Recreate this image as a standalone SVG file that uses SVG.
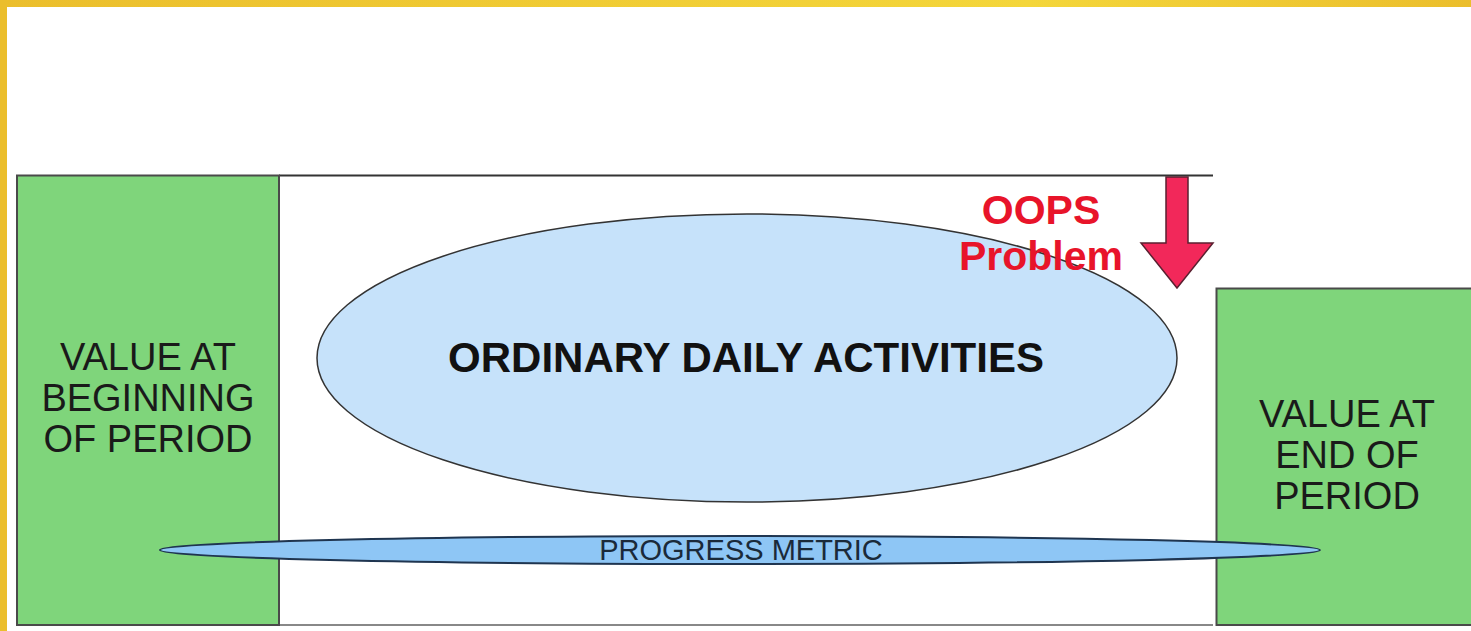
<svg xmlns="http://www.w3.org/2000/svg" width="1471" height="631" viewBox="0 0 1471 631">
<defs>
<linearGradient id="gold" x1="0" y1="0" x2="1" y2="0">
<stop offset="0" stop-color="#EBBE2C"/><stop offset="0.7" stop-color="#F4D63A"/><stop offset="1" stop-color="#EBBE2C"/>
</linearGradient>
<style>
.box{fill:#7FD57B;stroke:#4a4a4a;stroke-width:2}
.lbl{font-family:"Liberation Sans",Arial,sans-serif;font-size:38px;fill:#1a1a1a;text-anchor:middle}
.big{font-family:"Liberation Sans",Arial,sans-serif;font-size:42px;font-weight:bold;fill:#111;text-anchor:middle}
.oops{font-family:"Liberation Sans",Arial,sans-serif;font-size:41px;font-weight:bold;fill:#E8142A;text-anchor:middle}
.pm{font-family:"Liberation Sans",Arial,sans-serif;font-size:29px;fill:#1a2a3a;text-anchor:middle}
</style>
</defs>
<rect x="0" y="0" width="1471" height="631" fill="#fff"/>
<rect x="0" y="0" width="1471" height="7" fill="url(#gold)"/>
<rect x="0" y="0" width="7" height="631" fill="#EBBE2C"/>
<g id="frame">
<line x1="279" y1="175.5" x2="1213" y2="175.5" stroke="#333" stroke-width="2"/>
<line x1="279" y1="625" x2="1213" y2="625" stroke="#888" stroke-width="2"/>
</g>
<g id="begin">
<rect class="box" x="17" y="175.5" width="262" height="449.5"/>
<text class="lbl" x="148" y="370">VALUE AT</text>
<text class="lbl" x="148" y="411">BEGINNING</text>
<text class="lbl" x="148" y="452">OF PERIOD</text>
</g>
<g id="end">
<rect class="box" x="1216.5" y="288.5" width="260" height="336.5"/>
<text class="lbl" x="1347" y="427">VALUE AT</text>
<text class="lbl" x="1347" y="468">END OF</text>
<text class="lbl" x="1347" y="509">PERIOD</text>
</g>
<g id="activities">
<ellipse cx="747" cy="358" rx="430" ry="144" fill="#C6E2FA" stroke="#333" stroke-width="1.5"/>
<text class="big" x="746" y="372">ORDINARY DAILY ACTIVITIES</text>
</g>
<g id="oops">
<text class="oops" x="1041" y="224">OOPS</text>
<text class="oops" x="1041" y="270">Problem</text>
</g>
<g id="connectors">
<polygon points="1166,177 1188,177 1188,243 1213,243 1177,288 1141,243 1166,243" fill="#F2285A" stroke="#5a2030" stroke-width="1.5" stroke-linejoin="miter"/>
</g>
<g id="metric">
<ellipse cx="740" cy="550" rx="580" ry="14" fill="#8EC6F5" stroke="#1f3550" stroke-width="2"/>
<text class="pm" x="741" y="560">PROGRESS METRIC</text>
</g>
</svg>
